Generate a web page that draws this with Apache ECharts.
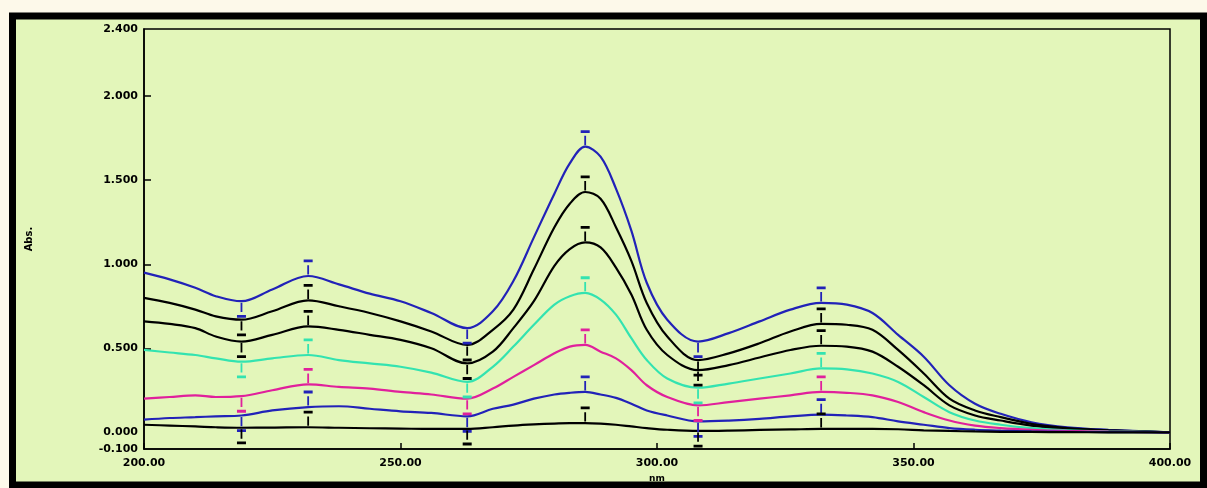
<!DOCTYPE html>
<html>
<head>
<meta charset="utf-8">
<script src="https://cdn.jsdelivr.net/npm/echarts@6/dist/echarts.min.js"></script>
<style>
html,body{margin:0;padding:0;background:#fdf9ea;}
#chart{width:1207px;height:488px;}
</style>
</head>
<body>
<div id="chart"></div>
<script>
// wavelengths (nm)
const xs = [200,205,210,214,219,225,232,238,244,250,256,263,268,272,276,280,283,286,289,292,295,298,302,308,314,320,326,332,337,342,347,352,357,362,367,373,380,388,400];
// absorbance series, top to bottom
const blueTop = [0.95,0.91,0.86,0.81,0.78,0.85,0.93,0.88,0.825,0.78,0.71,0.62,0.72,0.90,1.16,1.42,1.60,1.70,1.64,1.45,1.20,0.89,0.67,0.54,0.59,0.66,0.73,0.77,0.76,0.71,0.58,0.45,0.28,0.17,0.11,0.06,0.03,0.015,0.0];
const blackA  = [0.80,0.77,0.73,0.69,0.67,0.72,0.785,0.75,0.71,0.66,0.60,0.52,0.61,0.73,0.97,1.22,1.36,1.43,1.39,1.22,1.02,0.77,0.57,0.43,0.47,0.53,0.60,0.645,0.64,0.61,0.49,0.35,0.20,0.13,0.09,0.05,0.025,0.012,0.0];
const blackB  = [0.66,0.645,0.62,0.57,0.54,0.58,0.63,0.61,0.58,0.55,0.50,0.41,0.48,0.62,0.78,0.99,1.09,1.13,1.10,0.98,0.82,0.61,0.46,0.37,0.40,0.445,0.49,0.515,0.51,0.48,0.39,0.28,0.16,0.10,0.07,0.04,0.02,0.01,0.0];
const cyan    = [0.49,0.475,0.46,0.44,0.42,0.44,0.46,0.43,0.41,0.39,0.355,0.30,0.39,0.51,0.64,0.76,0.81,0.83,0.79,0.70,0.56,0.43,0.32,0.265,0.29,0.32,0.35,0.38,0.375,0.35,0.30,0.21,0.12,0.07,0.045,0.025,0.012,0.006,0.0];
const magenta = [0.20,0.21,0.22,0.21,0.215,0.25,0.285,0.27,0.26,0.24,0.225,0.20,0.26,0.33,0.40,0.47,0.51,0.52,0.48,0.44,0.37,0.28,0.21,0.16,0.18,0.20,0.22,0.24,0.235,0.22,0.18,0.12,0.07,0.04,0.025,0.015,0.008,0.004,0.0];
const blueLow = [0.075,0.085,0.09,0.095,0.10,0.13,0.15,0.155,0.14,0.125,0.115,0.095,0.14,0.165,0.20,0.225,0.235,0.24,0.225,0.205,0.17,0.13,0.10,0.065,0.07,0.08,0.095,0.105,0.10,0.09,0.065,0.045,0.025,0.015,0.01,0.006,0.003,0.001,0.0];
const blackLow= [0.045,0.04,0.035,0.03,0.027,0.028,0.03,0.027,0.024,0.022,0.02,0.02,0.03,0.04,0.047,0.052,0.055,0.055,0.052,0.045,0.035,0.025,0.015,0.008,0.01,0.014,0.017,0.02,0.02,0.02,0.018,0.012,0.008,0.005,0.003,0.002,0.001,0.0,0.0];

const xTicks = [200,250,300,350,400];
const yTicks = [-0.1,0,0.5,1.0,1.5,2.0,2.4];
// peak / valley pick positions (indices into xs)
const peakIdx = [6,17,27];
const valleyIdx = [4,11,23];

const seriesDefs = [
  {name:'s1', data:blueTop, color:'#2222b8'},
  {name:'s2', data:blackA, color:'#000000'},
  {name:'s3', data:blackB, color:'#000000'},
  {name:'s4', data:cyan, color:'#33e3b0'},
  {name:'s5', data:magenta, color:'#e0209c'},
  {name:'s6', data:blueLow, color:'#2222b8'},
  {name:'s7', data:blackLow, color:'#000000'}
];

const peakSym = 'path://M0,0H10V3H0Z M4,6H6V16H4Z';
const valleySym = 'path://M4,0H6V10H4Z M0,13H10V16H0Z';

const chart = echarts.init(document.getElementById('chart'), null, {renderer:'canvas'});
const font = {fontFamily:'DejaVu Sans, Liberation Sans, sans-serif', fontWeight:'bold', color:'#000'};

const series = seriesDefs.map(d => ({
  type:'line',
  name:d.name,
  data: xs.map((x,i)=>[x, d.data[i]]),
  smooth:0.35,
  showSymbol:false,
  lineStyle:{color:d.color, width:2.2},
  itemStyle:{color:d.color},
  z:3,
  silent:true,
  markPoint:{
    silent:true,
    label:{show:false},
    data: peakIdx.map(i=>({coord:[xs[i], d.data[i]], symbol:peakSym, symbolSize:[9,15], symbolOffset:[0,-9], itemStyle:{color:d.color}}))
      .concat(valleyIdx.map(i=>({coord:[xs[i], d.data[i]], symbol:valleySym, symbolSize:[9,15], symbolOffset:[0,9], itemStyle:{color:d.color}})))
  }
}));

chart.setOption({
  backgroundColor:'#fdf9ea',
  animation:false,
  graphic:[{
    type:'rect', z:-10,
    shape:{x:12.5, y:16, width:1191, height:469},
    style:{fill:'#e3f6ba', stroke:'#000', lineWidth:7}
  }],
  grid:{left:144, right:37, top:29, bottom:30, show:true, borderColor:'#000', borderWidth:1.5, backgroundColor:'transparent'},
  xAxis:{
    type:'value', min:200, max:400, interval:50,
    name:'nm', nameLocation:'middle', nameGap:21,
    nameTextStyle:Object.assign({fontSize:9}, font),
    axisLine:{show:true, onZero:false, lineStyle:{color:'#000', width:1.5}},
    axisTick:{show:true, inside:true, length:6, lineStyle:{color:'#000', width:1.5}},
    axisLabel:Object.assign({fontSize:11, margin:9, formatter:v=>v.toFixed(2), customValues:xTicks}, font),
    splitLine:{show:false}
  },
  yAxis:{
    type:'value', min:-0.1, max:2.4,
    name:'Abs.', nameLocation:'middle', nameGap:110, nameRotate:90,
    nameTextStyle:Object.assign({fontSize:10}, font),
    axisLine:{show:true, onZero:false, lineStyle:{color:'#000', width:1.5}},
    axisTick:{show:true, inside:true, length:7, customValues:[0.5,1.0,1.5,2.0], lineStyle:{color:'#000', width:1.5}},
    axisLabel:Object.assign({fontSize:11, margin:6, formatter:v=>v.toFixed(3), customValues:yTicks}, font),
    splitLine:{show:false}
  },
  series:series
});
</script>
</body>
</html>
